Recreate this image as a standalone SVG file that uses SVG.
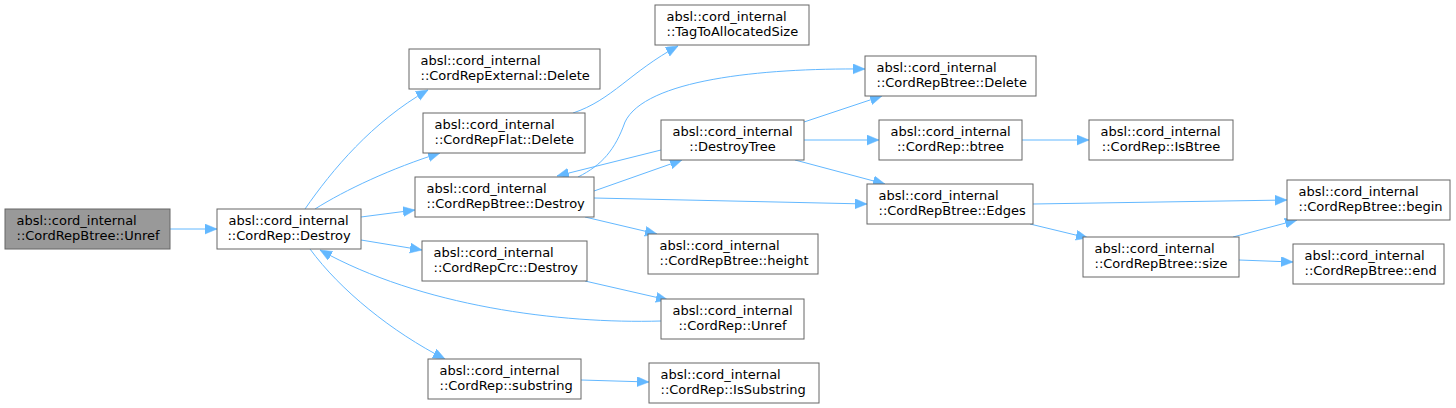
<svg xmlns="http://www.w3.org/2000/svg" width="1456" height="408" viewBox="0 0 1456 408">
<style>
.n rect{fill:#ffffff;stroke:#666666;stroke-width:1}
.root rect{fill:#999999}
text{font-family:"DejaVu Sans","Liberation Sans",sans-serif;font-size:13px;fill:#000000}
.m{text-anchor:middle}
.e path{fill:none;stroke:#63b8ff;stroke-width:1;marker-end:url(#ah)}
</style>
<defs>
<marker id="ah" markerUnits="userSpaceOnUse" markerWidth="13" markerHeight="11" refX="12" refY="5" orient="auto">
<path d="M0,0 L12,5 L0,10 z" fill="#63b8ff" stroke="#63b8ff" stroke-width="0.5"/>
</marker>
</defs>
<rect width="1456" height="408" fill="#ffffff"/>
<g class="e" id="edges">
<path d="M170,229 L217,229"/>
<path d="M305,209 C332,170 372,122 428,90"/>
<path d="M315,209 C345,190 392,168 440,153"/>
<path d="M361,217 L415,210"/>
<path d="M361,240 L422,250"/>
<path d="M310,249 C340,290 392,332 445,359"/>
<path d="M661,321 C560,324 420,306 320,250"/>
<path d="M573,113 C612,100 630,72 678,46"/>
<path d="M578,177 C602,165 615,150 625,122 C645,80 760,68 865,69"/>
<path d="M661,150 L557,176"/>
<path d="M594,191 L682,160"/>
<path d="M804,122 L882,96"/>
<path d="M804,140 L879,140"/>
<path d="M795,160 L885,184"/>
<path d="M594,198 L867,204"/>
<path d="M585,217 L657,234"/>
<path d="M585,281 L668,300"/>
<path d="M581,380 L649,382"/>
<path d="M1022,140 L1089,140"/>
<path d="M1033,204 L1287,200"/>
<path d="M1030,224 L1088,238"/>
<path d="M1233,237 L1297,220"/>
<path d="M1239,260 L1293,262"/>
</g>
<g class="n root" id="n1"><rect x="5" y="209" width="165" height="40"/><text x="16.5" y="225">absl::cord_internal</text><text x="16.5" y="240">::CordRepBtree::Unref</text></g>
<g class="n" id="n2"><rect x="217" y="209" width="144" height="40"/><text x="228.5" y="225">absl::cord_internal</text><text class="m" x="289" y="240">::CordRep::Destroy</text></g>
<g class="n" id="n3"><rect x="409" y="49" width="191" height="40"/><text x="420.5" y="65">absl::cord_internal</text><text x="420.5" y="80">::CordRepExternal::Delete</text></g>
<g class="n" id="n4"><rect x="423" y="113" width="162" height="40"/><text x="434.5" y="129">absl::cord_internal</text><text x="434.5" y="144">::CordRepFlat::Delete</text></g>
<g class="n" id="n5"><rect x="655" y="5" width="154" height="40"/><text x="666.5" y="21">absl::cord_internal</text><text x="666.5" y="36">::TagToAllocatedSize</text></g>
<g class="n" id="n6"><rect x="415" y="177" width="179" height="40"/><text x="426.5" y="193">absl::cord_internal</text><text x="426.5" y="208">::CordRepBtree::Destroy</text></g>
<g class="n" id="n7"><rect x="661" y="120" width="143" height="40"/><text x="672.5" y="136">absl::cord_internal</text><text class="m" x="732.5" y="151">::DestroyTree</text></g>
<g class="n" id="n8"><rect x="422" y="241" width="165" height="40"/><text x="433.5" y="257">absl::cord_internal</text><text x="433.5" y="272">::CordRepCrc::Destroy</text></g>
<g class="n" id="n9"><rect x="648" y="234" width="170" height="40"/><text x="659.5" y="250">absl::cord_internal</text><text x="659.5" y="265">::CordRepBtree::height</text></g>
<g class="n" id="n10"><rect x="661" y="299" width="143" height="40"/><text x="672.5" y="315">absl::cord_internal</text><text class="m" x="732.5" y="330">::CordRep::Unref</text></g>
<g class="n" id="n11"><rect x="428" y="359" width="153" height="40"/><text x="439.5" y="375">absl::cord_internal</text><text x="439.5" y="390">::CordRep::substring</text></g>
<g class="n" id="n12"><rect x="649" y="363" width="170" height="40"/><text x="660.5" y="379">absl::cord_internal</text><text x="660.5" y="394">::CordRep::IsSubstring</text></g>
<g class="n" id="n13"><rect x="865" y="56" width="171" height="40"/><text x="876.5" y="72">absl::cord_internal</text><text x="876.5" y="87">::CordRepBtree::Delete</text></g>
<g class="n" id="n14"><rect x="879" y="120" width="143" height="40"/><text x="890.5" y="136">absl::cord_internal</text><text class="m" x="950.5" y="151">::CordRep::btree</text></g>
<g class="n" id="n15"><rect x="1089" y="120" width="144" height="40"/><text x="1100.5" y="136">absl::cord_internal</text><text class="m" x="1161" y="151">::CordRep::IsBtree</text></g>
<g class="n" id="n16"><rect x="867" y="184" width="166" height="40"/><text x="878.5" y="200">absl::cord_internal</text><text x="878.5" y="215">::CordRepBtree::Edges</text></g>
<g class="n" id="n17"><rect x="1083" y="237" width="156" height="40"/><text x="1094.5" y="253">absl::cord_internal</text><text x="1094.5" y="268">::CordRepBtree::size</text></g>
<g class="n" id="n18"><rect x="1287" y="180" width="163" height="40"/><text x="1298.5" y="196">absl::cord_internal</text><text x="1298.5" y="211">::CordRepBtree::begin</text></g>
<g class="n" id="n19"><rect x="1293" y="244" width="151" height="40"/><text x="1304.5" y="260">absl::cord_internal</text><text x="1304.5" y="275">::CordRepBtree::end</text></g>
</svg>
